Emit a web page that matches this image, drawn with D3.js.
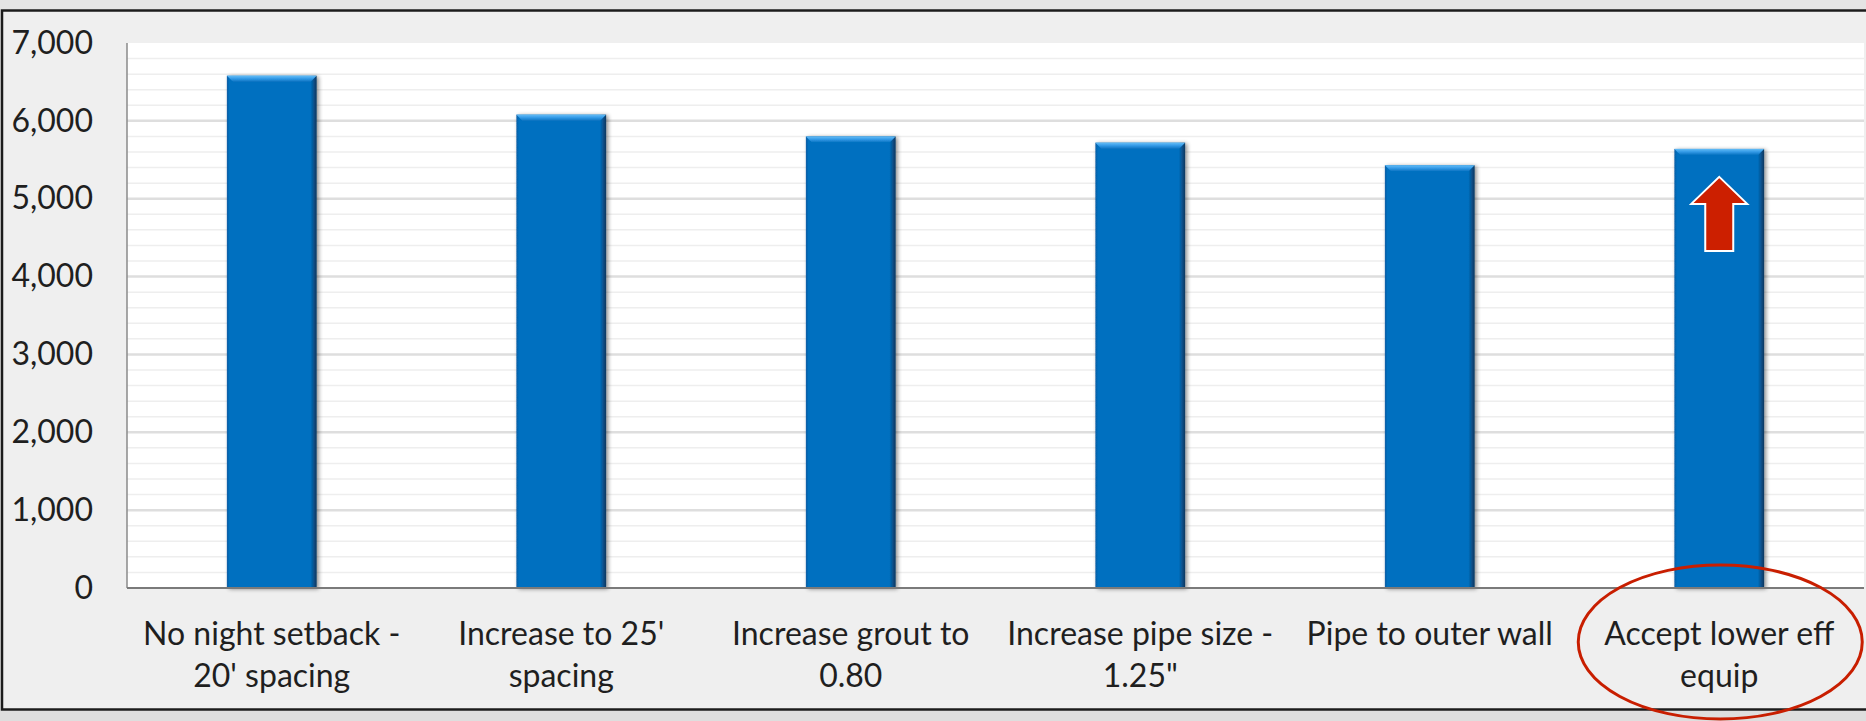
<!DOCTYPE html>
<html>
<head>
<meta charset="utf-8">
<script src="https://cdn.jsdelivr.net/npm/d3@7/dist/d3.min.js"></script>
<style>
  html, body { margin: 0; padding: 0; background: #e2e2e2; }
  svg { display: block; }
  text { font-family: Lato, "Open Sans", sans-serif; fill: #1f1f1f; }
</style>
</head>
<body>
<svg id="chart" width="1866" height="721"></svg>
<script>
// Ground-loop design options and resulting values
const categories = [
  ["No night setback -", "20' spacing"],
  ["Increase to 25'", "spacing"],
  ["Increase grout to", "0.80"],
  ["Increase pipe size -", "1.25\""],
  ["Pipe to outer wall", ""],
  ["Accept lower eff", "equip"]
];
const values = [6580, 6080, 5800, 5720, 5430, 5640];
const yTicks = [0, 1000, 2000, 3000, 4000, 5000, 6000, 7000];
const highlightIndex = 5;

const W = 1866, H = 721;
const svg = d3.select("#chart");
const plot = { left: 127, top: 43, right: 1864, bottom: 588 };

const defs = svg.append("defs");

// horizontal shading across each bar: darker edges, darkest on the right
const hGrad = defs.append("linearGradient").attr("id", "barH")
  .attr("x1", 0).attr("x2", 1).attr("y1", 0).attr("y2", 0);
[[0, "#0b5da3"], [0.03, "#0070c0"], [0.93, "#0070c0"], [0.97, "#0a4f88"], [1, "#06365e"]]
  .forEach(([o, c]) => hGrad.append("stop").attr("offset", o).attr("stop-color", c));

// top bevel highlight
const tGrad = defs.append("linearGradient").attr("id", "barTop")
  .attr("x1", 0).attr("x2", 0).attr("y1", 0).attr("y2", 1);
[[0, "#64bdf7"], [0.5, "#3399e6"], [1, "#0b74c2"]]
  .forEach(([o, c]) => tGrad.append("stop").attr("offset", o).attr("stop-color", c));

const shadow = defs.append("filter").attr("id", "barShadow")
  .attr("x", "-20%").attr("y", "-5%").attr("width", "140%").attr("height", "110%");
shadow.append("feGaussianBlur").attr("in", "SourceAlpha").attr("stdDeviation", 2);
shadow.append("feOffset").attr("dx", 2).attr("dy", 1).attr("result", "off");
shadow.append("feComponentTransfer").append("feFuncA").attr("type", "linear").attr("slope", 0.45);
const merge = shadow.append("feMerge");
merge.append("feMergeNode");
merge.append("feMergeNode").attr("in", "SourceGraphic");

// outer panel
svg.append("rect").attr("x", 0).attr("y", 0).attr("width", W).attr("height", H).attr("fill", "#e4e4e4");
svg.append("rect")
  .attr("x", 2).attr("y", 10.5).attr("width", W + 20).attr("height", 699)
  .attr("fill", "#efefef").attr("stroke", "#1c1c1c").attr("stroke-width", 2.5);
svg.append("rect").attr("x", 0).attr("y", 711).attr("width", W).attr("height", 10).attr("fill", "#dedede");

// scales
const x = d3.scaleBand()
  .domain(d3.range(categories.length))
  .range([plot.left, plot.right])
  .paddingInner(0.69)
  .paddingOuter(0.345);

const y = d3.scaleLinear().domain([0, 7000]).range([plot.bottom, plot.top]);

// plot background
svg.append("rect")
  .attr("x", plot.left).attr("y", plot.top)
  .attr("width", plot.right - plot.left).attr("height", plot.bottom - plot.top)
  .attr("fill", "#ffffff");

// minor gridlines every 200
const minor = d3.range(200, 7000, 200).filter(v => v % 1000 !== 0);
svg.append("g").selectAll("line").data(minor).join("line")
  .attr("x1", plot.left).attr("x2", plot.right)
  .attr("y1", d => y(d)).attr("y2", d => y(d))
  .attr("stroke", "#eeeeee").attr("stroke-width", 1.5);

// major gridlines
svg.append("g").selectAll("line").data(yTicks.filter(v => v > 0 && v < 7000)).join("line")
  .attr("x1", plot.left).attr("x2", plot.right)
  .attr("y1", d => y(d)).attr("y2", d => y(d))
  .attr("stroke", "#dedede").attr("stroke-width", 2.5);

// y axis labels
const yAxis = d3.axisLeft(y).tickValues(yTicks).tickSize(0).tickPadding(0)
  .tickFormat(d3.format(","));
const yg = svg.append("g").attr("transform", `translate(${plot.left - 34},0)`).call(yAxis);
yg.select(".domain").remove();
yg.selectAll("text").attr("font-size", 32).attr("fill", "#1f1f1f")
  .style("font-family", "Lato, 'Open Sans', sans-serif");

// bars
const bars = svg.append("g").selectAll("g").data(values).join("g")
  .attr("filter", "url(#barShadow)");
bars.append("rect")
  .attr("x", (d, i) => x(i)).attr("width", x.bandwidth())
  .attr("y", d => y(d)).attr("height", d => y(0) - y(d))
  .attr("fill", "url(#barH)");
bars.append("path")
  .attr("d", (d, i) => {
    const x0 = x(i), x1 = x(i) + x.bandwidth(), t = y(d), b = 6;
    return `M${x0},${t}L${x1},${t}L${x1 - b},${t + b}L${x0 + b},${t + b}Z`;
  })
  .attr("fill", "url(#barTop)");

// axis lines
svg.append("line")
  .attr("x1", plot.left).attr("x2", plot.left)
  .attr("y1", plot.top).attr("y2", plot.bottom)
  .attr("stroke", "#8a8a8a").attr("stroke-width", 1.5);
svg.append("line")
  .attr("x1", plot.left).attr("x2", plot.right)
  .attr("y1", plot.bottom).attr("y2", plot.bottom)
  .attr("stroke", "#7a7a7a").attr("stroke-width", 2);

// category labels (two lines)
const lab = svg.append("g").selectAll("text").data(categories).join("text")
  .attr("text-anchor", "middle")
  .attr("font-size", 32)
  .attr("x", (d, i) => x(i) + x.bandwidth() / 2);
lab.append("tspan").attr("x", (d, i) => x(i) + x.bandwidth() / 2).attr("y", 645).text(d => d[0]);
lab.append("tspan").attr("x", (d, i) => x(i) + x.bandwidth() / 2).attr("y", 687).text(d => d[1]);

// up arrow on the highlighted bar
const cx = x(highlightIndex) + x.bandwidth() / 2;
const tip = y(values[highlightIndex]) + 28;
svg.append("path")
  .attr("d", `M${cx},${tip}L${cx + 28},${tip + 27}L${cx + 14},${tip + 27}L${cx + 14},${tip + 74}` +
             `L${cx - 14},${tip + 74}L${cx - 14},${tip + 27}L${cx - 28},${tip + 27}Z`)
  .attr("fill", "#cc1f00").attr("stroke", "#ffffff").attr("stroke-width", 2)
  .attr("stroke-linejoin", "miter");

// ring around the highlighted label
svg.append("ellipse")
  .attr("cx", cx + 1).attr("cy", 642).attr("rx", 142).attr("ry", 77)
  .attr("fill", "none").attr("stroke", "#c81e00").attr("stroke-width", 3);
</script>
</body>
</html>
